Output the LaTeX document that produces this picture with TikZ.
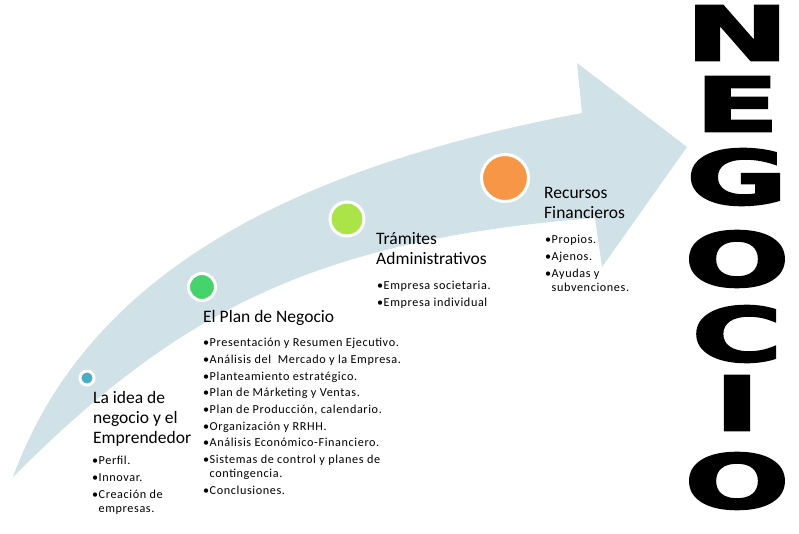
\documentclass[tikz,border=0pt]{standalone}
\usepackage{fontspec}
\setmainfont{Carlito}
\newfontfamily\itemfont[LetterSpace=5]{Carlito}
\newfontfamily\bigfont[BoldFeatures={FakeBold=2.5}]{DejaVu Sans}
\usepackage{graphicx}

\definecolor{bandblue}{RGB}{208,225,232}
\definecolor{dotblue}{RGB}{75,172,198}
\definecolor{dotgreen}{RGB}{71,211,108}
\definecolor{dotlime}{RGB}{170,228,72}
\definecolor{dotorange}{RGB}{247,150,70}

\newcommand{\bul}{\makebox[6.5pt][l]{\textbullet}}
\newcommand{\cont}{\hspace*{6.5pt}}
\newcommand{\wide}[1]{\scalebox{1.65}[1]{#1}}

\begin{document}
\begin{tikzpicture}[x=1pt,y=-1pt,
  dot/.style={circle,draw=white,line width=3pt,inner sep=0},
  heading/.style={anchor=base west,inner sep=0,align=left,font=\fontsize{17.5}{20}\selectfont},
  items/.style={anchor=base west,inner sep=0,align=left,font=\itemfont\fontsize{12.2}{13.7}\selectfont},
  letter/.style={inner sep=0,font=\bigfont\bfseries\fontsize{75}{75}\selectfont}]
\useasboundingbox (0,0) rectangle (799,534);

% the band
\fill [bandblue] (13,477) .. controls (85,280) and (280,170) .. (582,113)
  -- (577,63) -- (687,147) -- (602,267) -- (595,218)
  .. controls (310,240) and (175,315) .. (13,477) -- cycle;

\node [dot,fill=dotblue,minimum size=14pt] at (87,378) (idea) {};
\node [dot,fill=dotgreen,minimum size=27pt] at (202,287) (plan) {};
\node [dot,fill=dotlime,minimum size=34pt] at (347,219) (tram) {};
\node [dot,fill=dotorange,minimum size=47pt] at (505,178) (recu) {};

% (base = last line of each block)
\node [heading] at (93,443) (ideaT) {La idea de\\negocio y el\\Emprendedor};
\node [items] at (92,512) (ideaL) {\bul Perfil.\\[3pt]\bul Innovar.\\[3pt]\bul Creación de\\\cont empresas.};

\node [heading] at (203,322) (planT) {El Plan de Negocio};
\node [items] at (203,494) (planL) {\bul Presentación y Resumen Ejecutivo.\\[3pt]
  \bul Análisis del\ \ Mercado y la Empresa.\\[3pt]
  \bul Planteamiento estratégico.\\[3pt]
  \bul Plan de Márketing y Ventas.\\[3pt]
  \bul Plan de Producción, calendario.\\[3pt]
  \bul Organización y RRHH.\\[3pt]
  \bul Análisis Económico-Financiero.\\[3pt]
  \bul Sistemas de control y planes de\\\cont contingencia.\\[3pt]
  \bul Conclusiones.};

\node [heading] at (376,265) (tramT) {Trámites\\Administrativos};
\node [items] at (377,306) (tramL) {\bul Empresa societaria.\\[3pt]\bul Empresa individual};

\node [heading] at (544,219) (recuT) {Recursos\\Financieros};
\node [items] at (545,291) (recuL) {\bul Propios.\\[3pt]\bul Ajenos.\\[3pt]\bul Ayudas y\\\cont subvenciones.};

% NEGOCIO
\node [letter] at (737,33) (n) {\wide{N}};
\node [letter] at (737,104) (e) {\wide{E}};
\node [letter] at (737,177) (g) {\wide{G}};
\node [letter] at (737,259) (o) {\wide{O}};
\node [letter] at (737,334) (c) {\wide{C}};
\node [letter] at (737,403) (i) {\wide{I}};
\node [letter] at (737,481) (o2) {\wide{O}};

\end{tikzpicture}
\end{document}
